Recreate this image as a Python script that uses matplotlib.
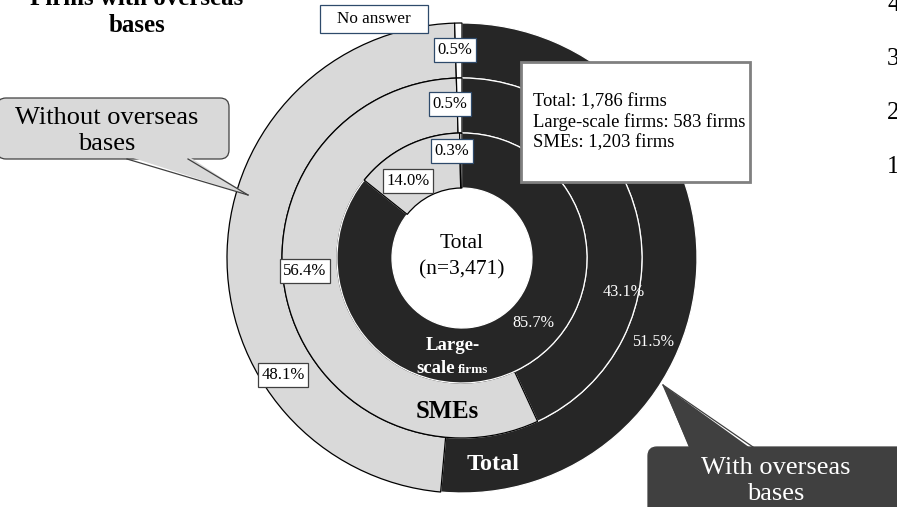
import matplotlib
matplotlib.use("Agg")
import matplotlib.pyplot as plt
from matplotlib.patches import FancyBboxPatch, Polygon, Rectangle

plt.rcParams["font.family"] = ["Liberation Serif", "DejaVu Serif"]

# shares of firms (%), order: with overseas bases, without, no answer
categories = ["With overseas bases", "Without overseas bases", "No answer"]
total_share = [51.5, 48.1, 0.5]
sme_share = [43.1, 56.4, 0.5]
large_share = [85.7, 14.0, 0.3]
n_total = 3471

# number of firms with overseas bases
group_names = ["Total", "Large-scale firms", "SMEs"]
group_firms = [1786, 583, 1203]

side_ticks = ["4", "3", "2", "1"]

DARK = "#262626"
LIGHT = "#d9d9d9"
CALLOUT = "#404040"
BLUE = "#2e4a6b"


def pct(v):
    return f"{v:.1f}%"


def callout(ax, x0, y0, w, h, base, tip, fc, ec):
    """rounded box with a triangular pointer; base = (xa, xb, y) on the box edge"""
    ax.add_patch(FancyBboxPatch((x0, y0), w, h, boxstyle="round,pad=0,rounding_size=9",
                                fc=fc, ec=ec, lw=0.9, zorder=5))
    xa, xb, yb = base
    inward = 3 if yb <= y0 + 1 else -3
    ax.add_patch(Polygon([(xa, yb + inward), (xb, yb + inward), tip], closed=True,
                         fc=fc, ec="none", zorder=6))
    ax.plot([xa, tip[0]], [yb, tip[1]], color=ec, lw=0.9, zorder=7)
    ax.plot([xb, tip[0]], [yb, tip[1]], color=ec, lw=0.9, zorder=7)


W, H = 897, 507
fig = plt.figure(figsize=(W / 100, H / 100), dpi=100)
ax = fig.add_axes([0, 0, 1, 1])

cx, cy = 462, 258
rings = [(total_share, 235), (sme_share, 180), (large_share, 125)]
for shares, r in rings:
    # y axis gets flipped below, so -90 / counterclock = start at top, clockwise on screen
    wedges, _ = ax.pie(shares, radius=r, center=(cx, cy), startangle=-90, counterclock=True,
                       colors=[DARK, LIGHT, "white"],
                       wedgeprops=dict(width=55, linewidth=0.9))
    wedges[0].set_edgecolor("white")
    wedges[1].set_edgecolor("black")
    wedges[2].set_edgecolor("black")

ax.set_xlim(0, W)
ax.set_ylim(H, 0)
ax.set_aspect("equal")
ax.axis("off")

# boxed percentage labels
blue_box = dict(boxstyle="square,pad=0.22", fc="white", ec=BLUE, lw=0.9)
gray_box = dict(boxstyle="square,pad=0.22", fc="white", ec="#404040", lw=0.9)
ax.text(455, 50, pct(total_share[2]), ha="center", va="center", fontsize=12, bbox=blue_box, zorder=8)
ax.text(450, 104, pct(sme_share[2]), ha="center", va="center", fontsize=12, bbox=blue_box, zorder=8)
ax.text(452, 151, pct(large_share[2]), ha="center", va="center", fontsize=12, bbox=blue_box, zorder=8)
ax.text(408, 181, pct(large_share[1]), ha="center", va="center", fontsize=12, bbox=gray_box, zorder=8)
ax.text(305, 271, pct(sme_share[1]), ha="center", va="center", fontsize=12, bbox=gray_box, zorder=8)
ax.text(283, 375, pct(total_share[1]), ha="center", va="center", fontsize=12, bbox=gray_box, zorder=8)

# white labels on dark wedges
ax.text(533, 323, pct(large_share[0]), ha="center", va="center", fontsize=11.7, color="white")
ax.text(624, 292, pct(sme_share[0]), ha="center", va="center", fontsize=11.7, color="white")
ax.text(653, 342, pct(total_share[0]), ha="center", va="center", fontsize=11.7, color="white")

# centre
ax.text(cx, 243, "Total", ha="center", va="center", fontsize=15.5)
ax.text(cx, 270, f"(n={n_total:,})", ha="center", va="center", fontsize=15.5)

# ring names
ax.text(453, 345, "Large-", ha="center", va="center", fontsize=13.5, fontweight="bold", color="white")
ax.text(455, 373, "scale", ha="right", va="baseline", fontsize=13.5, fontweight="bold", color="white")
ax.text(458, 373, "firms", ha="left", va="baseline", fontsize=9.6, fontweight="bold", color="white")
ax.text(447, 412, "SMEs", ha="center", va="center", fontsize=17.8, fontweight="bold", color="black")
ax.text(493, 465, "Total", ha="center", va="center", fontsize=17.5, fontweight="bold", color="white")

# "No answer" tag
ax.add_patch(Rectangle((320, 5), 108, 28, fc="white", ec=BLUE, lw=0.9, zorder=8))
ax.text(374, 19, categories[2], ha="center", va="center", fontsize=12.3, zorder=9)

# info box
ax.add_patch(Rectangle((521, 62), 229, 120, fc="white", ec="#808080", lw=2.0, zorder=8))
for i, (name, n) in enumerate(zip(group_names, group_firms)):
    ax.text(533, 102 + i * 20.5, f"{name}: {n:,} firms", ha="left", va="center",
            fontsize=13.4, zorder=9)

# title (cut off at top)
ax.text(137, 12, "Firms with overseas\nbases", ha="center", va="center", fontsize=18,
        fontweight="bold", linespacing=1.2)

# callouts
callout(ax, -3, 98, 232, 61, (127, 188, 159), (248, 195), LIGHT, CALLOUT)
ax.text(107, 131, "Without overseas\nbases", ha="center", va="center", fontsize=19,
        linespacing=1.2, zorder=9)
callout(ax, 648, 447, 260, 80, (690, 753, 447), (663, 385), CALLOUT, CALLOUT)
ax.text(776, 481, "With overseas\nbases", ha="center", va="center", fontsize=19,
        color="white", linespacing=1.2, zorder=9)

# stray axis numbers at the right edge
for i, t in enumerate(side_ticks):
    ax.text(887, 5 + i * 54, t, ha="left", va="center", fontsize=18)

fig.savefig("out.png", dpi=100)
